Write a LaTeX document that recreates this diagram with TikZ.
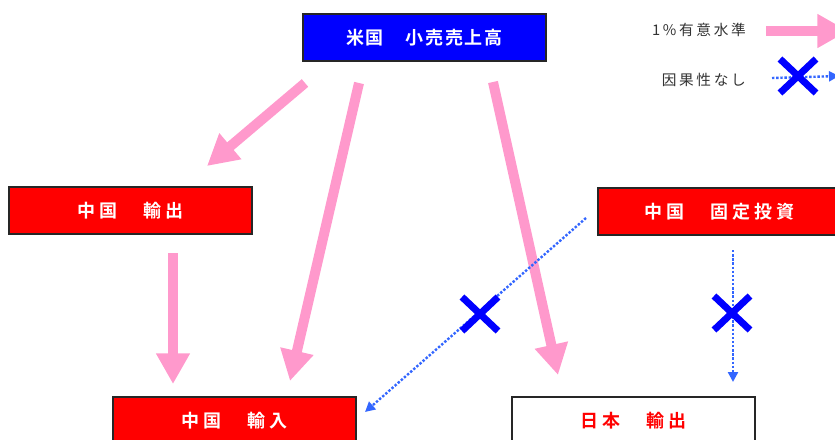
\documentclass[tikz,border=0pt]{standalone}
\usepackage{fontspec}
\usetikzlibrary{arrows.meta}
\newfontfamily\jpf{Noto Sans CJK JP}
\newfontfamily\jpb[LetterSpace=22]{Noto Sans CJK JP Bold}
\newfontfamily\jpbt[LetterSpace=10]{Noto Sans CJK JP Bold}
\newfontfamily\jpl[LetterSpace=18]{Noto Sans CJK JP}
\definecolor{pinkA}{HTML}{FF99CC}
\definecolor{dotblue}{HTML}{3366FF}
\definecolor{xblue}{HTML}{0000FF}
\definecolor{boxred}{HTML}{FF0000}
\definecolor{txtgray}{HTML}{333333}
\tikzset{
  box/.style={draw=black!85, line width=0.9pt, rectangle, minimum width=182.25pt, minimum height=35.25pt, inner sep=0pt},
  redbox/.style={box, fill=boxred, text=white, font=\jpb\fontsize{13.5}{14}\selectfont},
  bluebox/.style={box, fill=xblue, text=white, font=\jpbt\fontsize{13.5}{14}\selectfont},
  whitebox/.style={box, fill=white, text=boxred, font=\jpb\fontsize{13.5}{14}\selectfont},
  sigarrow/.style={draw=pinkA, line width=7.5pt, -{Triangle[width=24pt,length=23pt]}},
  noarrow/.style={draw=dotblue, line width=1.8pt, dash pattern=on 1.8pt off 1.3pt, -{Triangle[width=7.5pt,length=7.5pt]}},
  xmark/.style={draw=xblue, line width=5.2pt},
  legend/.style={anchor=east, inner sep=0pt, text=txtgray, font=\jpl\fontsize{11}{12}\selectfont}
}
\begin{document}
\begin{tikzpicture}[x=0.75pt,y=-0.75pt]
\useasboundingbox (0,0) rectangle (835,439);
\clip (0,0) rectangle (835,439);
% boxes
\node[bluebox] (usr) at (424.5,37.5) {米国　小売売上高};
\node[redbox] (cnexp) at (130.5,210.5) {中国　輸出};
\node[redbox] (cninv) at (719.5,211.5) {中国　固定投資};
\node[redbox] (cnimp) at (234.5,420.5) {中国　輸入};
\node[whitebox] (jpexp) at (633.5,420.5) {日本　輸出};
% legend
\node[legend] (l1) at (746,30) {1\%有意水準};
\node[legend] (l2) at (746,80) {因果性なし};
\coordinate (l1s) at (766,31);
\coordinate (l1e) at (848,31);
\coordinate (l2s) at (772,78);
\coordinate (l2e) at (839,76);
% arrow endpoints
\coordinate (a1s) at (305,83);  \coordinate (a1e) at (207,166);
\coordinate (a2s) at (359,83);  \coordinate (a2e) at (290,381);
\coordinate (a3s) at (493,82);  \coordinate (a3e) at (558,375);
\coordinate (a4s) at (173,253); \coordinate (a4e) at (173,384);
\coordinate (d1s) at (586,218); \coordinate (d1e) at (365,412);
\coordinate (d2s) at (733,250); \coordinate (d2e) at (733,382);
% significant arrows
\draw[sigarrow] (a1s) -- (a1e);
\draw[sigarrow] (a2s) -- (a2e);
\draw[sigarrow] (a3s) -- (a3e);
\draw[sigarrow] (a4s) -- (a4e);
\draw[sigarrow] (l1s) -- (l1e);
% no causality
\draw[noarrow] (d1s) -- (d1e);
\draw[noarrow] (d2s) -- (d2e);
\draw[noarrow] (l2s) -- (l2e);
% crosses
\foreach \cx/\cy in {480/314, 732/313, 798/76} {
  \draw[xmark] (\cx-18,\cy-17) -- (\cx+18,\cy+17);
  \draw[xmark] (\cx-18,\cy+17) -- (\cx+18,\cy-17);
}
\end{tikzpicture}
\end{document}
